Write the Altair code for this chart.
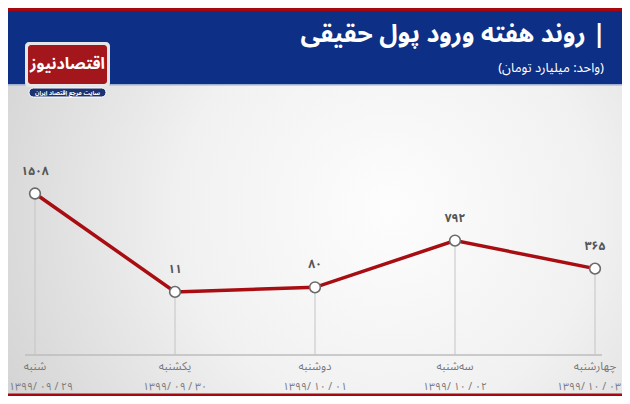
import altair as alt
import pandas as pd

days = ["شنبه", "یکشنبه", "دوشنبه", "سه‌شنبه", "چهارشنبه"]
dates = ["۱۳۹۹/ ۰۹ / ۲۹", "۱۳۹۹/ ۰۹ / ۳۰", "۱۳۹۹/ ۱۰ / ۰۱", "۱۳۹۹/ ۱۰ / ۰۲", "۱۳۹۹/ ۱۰ / ۰۳"]
values = [1508, 11, 80, 792, 365]

title_text = "روند هفته ورود پول حقیقی |"
subtitle_text = "(واحد: میلیارد تومان)"
logo_text = "اقتصادنیوز"
logo_sub = "سایت مرجع اقتصاد ایران"

FA = str.maketrans("0123456789", "۰۱۲۳۴۵۶۷۸۹")
df = pd.DataFrame({
    "idx": list(range(len(days))),
    "day": days,
    "date": dates,
    "value": values,
    "label": [str(v).translate(FA) for v in values],
})

W, H = 614, 388
FONT = "Noto Sans Arabic, Vazirmatn, DejaVu Sans, sans-serif"
LAST = len(days) - 1

one = alt.Data(values=[{"k": 1}])

xs = alt.X("idx:Q", axis=None,
           scale=alt.Scale(domain=[0, LAST], range=[27, 587], nice=False, zero=False))
ys = alt.Y("value:Q", axis=None,
           scale=alt.Scale(domain=[0, 1500], range=[284.6, 186.05], nice=False, zero=False))

def rect(x, x2, y, y2, **kw):
    return alt.Chart(one).mark_rect(**kw).encode(
        x=alt.value(x), x2=alt.value(x2), y=alt.value(y), y2=alt.value(y2))

def text(t, x, y, **kw):
    return alt.Chart(one).mark_text(text=t, font=FONT, **kw).encode(
        x=alt.value(x), y=alt.value(y))

bg = rect(0, W, 76, H, fill=alt.Gradient(
    gradient="radial",
    stops=[alt.GradientStop(offset=0, color="#fdfdfd"),
           alt.GradientStop(offset=0.45, color="#f1f1f1"),
           alt.GradientStop(offset=1, color="#cfcfcf")],
    x1=0.62, y1=0.45, x2=0.62, y2=0.45, r1=0, r2=0.75))

red_top = rect(0, W, 0, 3, fill="#a5090f")
blue = rect(0, W, 3, 76, fill="#0d2f86")
blue_edge = rect(0, W, 76, 77.5, fill="#9fb0d0")
red_bottom = rect(0, W, 385.5, H, fill="#a5090f")

title = text(title_text, 598, 25.5, align="right", baseline="middle",
             fontSize=25, fontWeight="bold", color="white")
subtitle = text(subtitle_text, 596, 60, align="right", baseline="middle",
                fontSize=13, color="white")

logo_border = rect(17, 102, 34, 79, fill="#e6e6e6", cornerRadius=4)
logo_red = rect(20, 99, 37, 76, fill="#a3161c", cornerRadius=3)
logo_txt = text(logo_text, 59.5, 56, align="center", baseline="middle",
                fontSize=16, fontWeight="bold", color="white")
pill = rect(21, 98, 80, 89, fill="#1d3270", stroke="white", strokeWidth=1, cornerRadius=5)
pill_txt = text(logo_sub, 59.5, 84.5, align="center", baseline="middle",
                fontSize=6, fontWeight="bold", color="white")

axis_line = alt.Chart(one).mark_rule(color="#bdbdbd", strokeWidth=1.5).encode(
    x=alt.value(17), x2=alt.value(594), y=alt.value(347))

base = alt.Chart(df)

vrules = base.mark_rule(color="#c4c4c4", strokeWidth=1).encode(
    x=xs, y=ys, y2=alt.value(347))

line = base.mark_line(color="#a80d12", strokeWidth=3.5).encode(x=xs, y=ys)

points = base.mark_point(filled=True, fill="white", stroke="#6a6a6a", strokeWidth=1.6,
                         size=115, opacity=1, shape="circle").encode(x=xs, y=ys)

labels = base.mark_text(dy=-23, font=FONT, fontSize=12, fontWeight="bold",
                        color="#555555").encode(x=xs, y=ys, text="label:N")

day_labels = base.mark_text(font=FONT, fontSize=11.5, color="#7a7a7a",
                            baseline="middle").encode(x=xs, y=alt.value(358.5), text="day:N")

date_style = dict(font=FONT, fontSize=10.5, color="#7a7a7a", baseline="middle")
date_enc = dict(x=xs, y=alt.value(378.5), text="date:N")
date_mid = base.transform_filter(
    (alt.datum.idx > 0) & (alt.datum.idx < LAST)
).mark_text(align="center", **date_style).encode(**date_enc)
date_first = base.transform_filter(alt.datum.idx == 0).mark_text(
    align="left", dx=-26, **date_style).encode(**date_enc)
date_last = base.transform_filter(alt.datum.idx == LAST).mark_text(
    align="right", dx=26, **date_style).encode(**date_enc)

chart = alt.layer(
    bg, red_top, blue, blue_edge, red_bottom,
    title, subtitle,
    logo_border, logo_red, logo_txt, pill, pill_txt,
    axis_line, vrules, line, points, labels, day_labels,
    date_mid, date_first, date_last,
).properties(
    width=W, height=H,
    autosize=alt.AutoSizeParams(type="none"),
    padding=0,
).configure_view(stroke=None)

chart.save("out.html", embed_options={"renderer": "svg", "actions": False})
